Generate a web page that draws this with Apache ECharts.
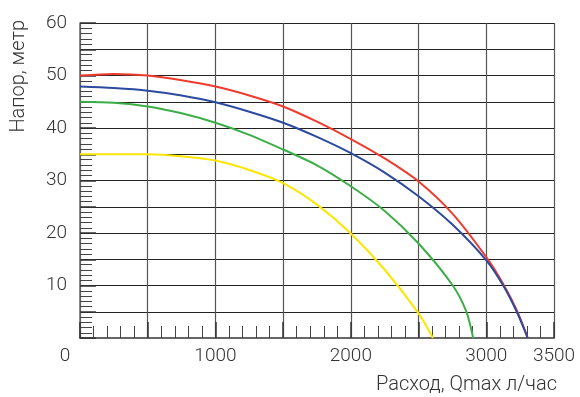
<!DOCTYPE html>
<html>
<head>
<meta charset="utf-8">
<script src="https://cdn.jsdelivr.net/npm/echarts@6/dist/echarts.min.js"></script>
<style>
html,body{margin:0;padding:0;background:#fff;}
#chart{width:580px;height:397px;}
</style>
</head>
<body>
<div id="chart"></div>
<script>
// Data (flow л/час, head м)
const redCurve = [[0,50.0],[250,50.3],[500,50.0],[750,49.1],[1000,47.9],[1250,46.2],[1500,44.1],[1750,41.2],[2000,37.9],[2250,34.2],[2500,29.8],[2750,23.7],[3000,15.4],[3125,10.3],[3225,5.3],[3306,0]];
const blueCurve = [[0,47.9],[250,47.6],[500,47.1],[750,46.2],[1000,44.9],[1250,43.1],[1500,41.0],[1750,38.3],[2000,35.2],[2250,31.5],[2500,27.0],[2750,21.6],[3000,14.8],[3125,10.0],[3225,5.0],[3306,0]];
const greenCurve = [[0,45.0],[250,44.8],[500,44.1],[750,42.8],[1000,41.0],[1250,38.7],[1500,35.9],[1750,32.9],[2000,28.9],[2250,24.2],[2500,18.0],[2750,10.1],[2850,5.2],[2903,0]];
const yellowCurve = [[0,35.0],[250,35.0],[500,35.0],[750,34.6],[1000,33.8],[1250,32.0],[1500,29.5],[1750,25.4],[2000,19.9],[2250,13.0],[2500,4.7],[2606,0]];
const xTickLabels = [0, 1000, 2000, 3000, 3500];
const yTickLabels = [10, 20, 30, 40, 50, 60];
const xName = 'Расход, Qmax л/час';
const yName = 'Напор, метр';

const chart = echarts.init(document.getElementById('chart'), null, {renderer:'canvas'});
const font = 'Roboto';
const txtColor = '#333';
function mkSeries(data, color){
  return {type:'line', data:data, smooth:0.3, showSymbol:false, symbol:'none',
    lineStyle:{color:color, width:2}, itemStyle:{color:color}, animation:false};
}
chart.setOption({
  animation:false,
  grid:{left:80, right:26, top:23, bottom:59, containLabel:false},
  xAxis:{
    type:'value', min:0, max:3500, interval:500,
    name:xName, nameLocation:'end', nameGap:3,
    nameTextStyle:{fontFamily:font, fontSize:20, fontWeight:300, color:txtColor, align:'right', verticalAlign:'top', padding:[37,0,0,0]},
    axisLine:{show:true, lineStyle:{color:'#666', width:2}},
    axisTick:{show:true, inside:true, length:16, lineStyle:{color:'#333', width:1.5}},
    minorTick:{show:true, splitNumber:5, length:12, lineStyle:{color:'#444', width:1}},
    splitLine:{show:true, lineStyle:{color:'#555', width:1.2}},
    axisLabel:{fontFamily:font, fontSize:19, fontWeight:300, color:txtColor, margin:9,
      formatter:function(v){ if(v===0) return '{z|0}'; return xTickLabels.indexOf(v)>=0 ? String(v) : ''; },
      rich:{z:{fontFamily:font, fontSize:19, fontWeight:300, color:txtColor, padding:[0,30,0,0]}}}
  },
  yAxis:{
    type:'value', min:0, max:60, interval:5,
    name:yName, nameLocation:'end', nameGap:3, nameRotate:90,
    nameTextStyle:{fontFamily:font, fontSize:20, fontWeight:300, color:txtColor, align:'right', verticalAlign:'bottom', padding:[0,0,51,0]},
    axisLine:{show:true, lineStyle:{color:'#666', width:1.5}},
    axisTick:{show:true, inside:true, length:16, lineStyle:{color:'#333', width:1.5}},
    minorTick:{show:true, splitNumber:5, length:12, lineStyle:{color:'#444', width:1}},
    splitLine:{show:true, lineStyle:{color:'#222', width:1.2}},
    axisLabel:{fontFamily:font, fontSize:19, fontWeight:300, color:txtColor, margin:13,
      formatter:function(v){ return yTickLabels.indexOf(v)>=0 ? String(v) : ''; }}
  },
  series:[
    mkSeries(redCurve, '#ef3b2d'),
    mkSeries(blueCurve, '#2c4aa0'),
    mkSeries(greenCurve, '#3cae48'),
    mkSeries(yellowCurve, '#ffe600')
  ]
});
</script>
</body>
</html>
